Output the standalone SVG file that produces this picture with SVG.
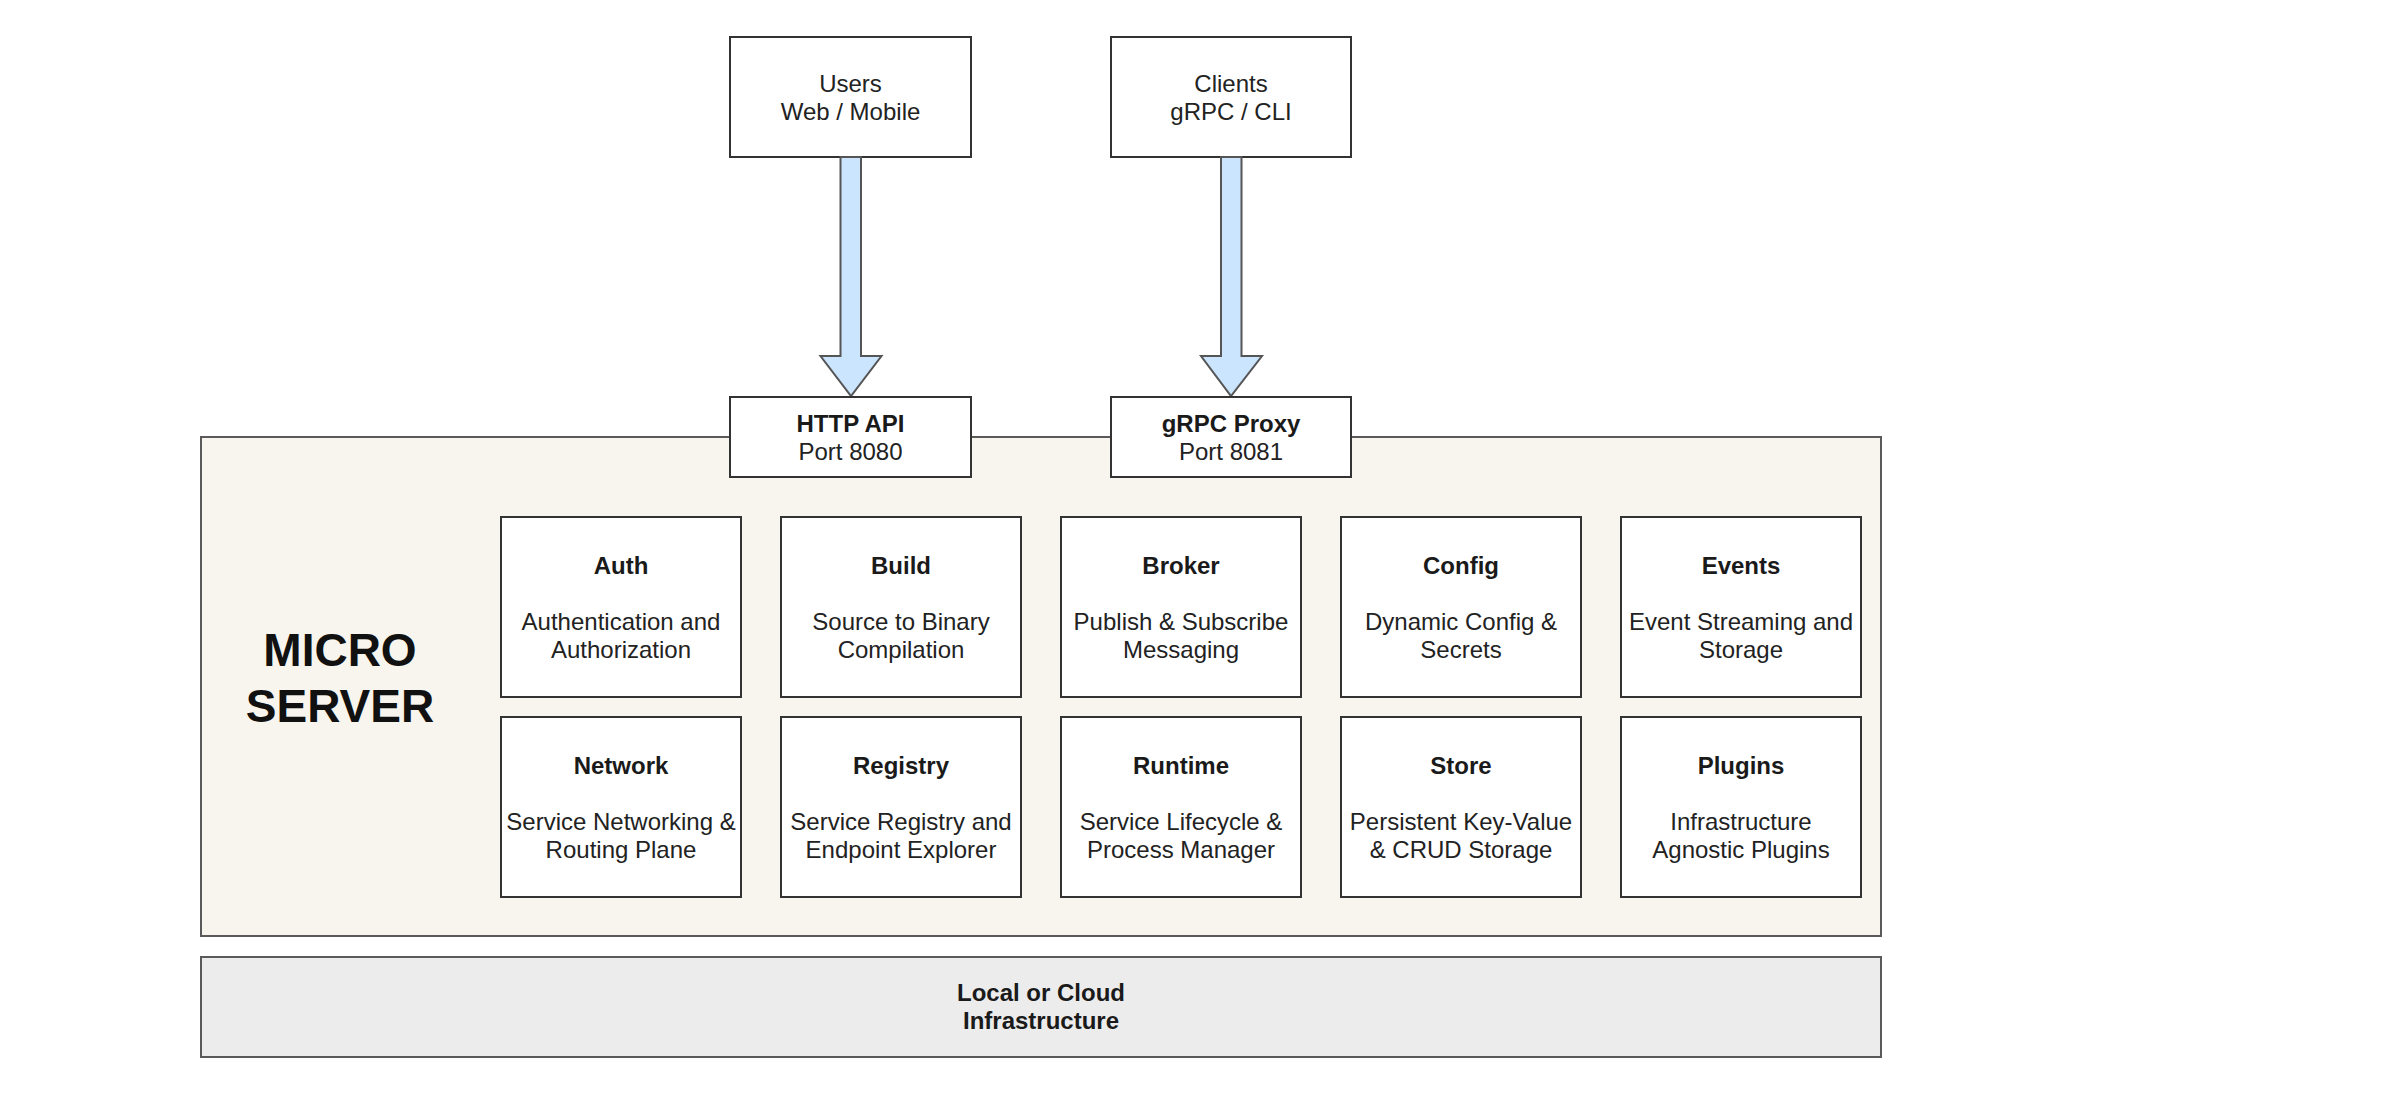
<svg xmlns="http://www.w3.org/2000/svg" width="2386" height="1112" viewBox="0 0 2386 1112">
<style>
  text { font-family: "Liberation Sans", Arial, sans-serif; text-anchor: middle; }
  .box { fill: #ffffff; stroke: #333333; stroke-width: 2; }
  .container { fill: #f7f5ee; stroke: #5a5a5a; stroke-width: 2; }
  .infra { fill: #ececec; stroke: #5a5a5a; stroke-width: 2; }
  .t { font-size: 24px; fill: #222222; }
  .b { font-size: 24px; font-weight: bold; fill: #1a1a1a; }
  .big { font-size: 46px; font-weight: bold; fill: #111111; }
  .arrow { fill: #cce5ff; stroke: #555555; stroke-width: 2; stroke-linejoin: miter; }
</style>
<rect width="2386" height="1112" fill="#ffffff"/>

<g id="micro-server">
  <rect class="container" x="201" y="437" width="1680" height="499"/>
  <text class="big" x="340" y="666">MICRO</text>
  <text class="big" x="340" y="722">SERVER</text>
</g>

<g id="infrastructure">
  <rect class="infra" x="201" y="957" width="1680" height="100"/>
  <text class="b" x="1041" y="1001">Local or Cloud</text>
  <text class="b" x="1041" y="1029">Infrastructure</text>
</g>

<g id="users">
  <rect class="box" x="730" y="37" width="241" height="120"/>
  <text class="t" x="850.5" y="91.5">Users</text>
  <text class="t" x="850.5" y="119.5">Web / Mobile</text>
</g>

<g id="clients">
  <rect class="box" x="1111" y="37" width="240" height="120"/>
  <text class="t" x="1231" y="91.5">Clients</text>
  <text class="t" x="1231" y="119.5">gRPC / CLI</text>
</g>

<g id="connectors">
  <path class="arrow" d="M840.5,157 L861,157 L861,356 L881.5,356 L851,396 L820.5,356 L840.5,356 Z"/>
  <path class="arrow" d="M1221,157 L1241.5,157 L1241.5,356 L1262,356 L1231,396 L1201,356 L1221,356 Z"/>
</g>

<g id="http-api">
  <rect class="box" x="730" y="397" width="241" height="80"/>
  <text class="b" x="850.5" y="431.5">HTTP API</text>
  <text class="t" x="850.5" y="459.5">Port 8080</text>
</g>

<g id="grpc-proxy">
  <rect class="box" x="1111" y="397" width="240" height="80"/>
  <text class="b" x="1231" y="431.5">gRPC Proxy</text>
  <text class="t" x="1231" y="459.5">Port 8081</text>
</g>

<g id="auth">
  <rect class="box" x="501" y="517" width="240" height="180"/>
  <text class="b" x="621" y="573.5">Auth</text>
  <text class="t" x="621" y="629.5">Authentication and</text>
  <text class="t" x="621" y="657.5">Authorization</text>
</g>
<g id="build">
  <rect class="box" x="781" y="517" width="240" height="180"/>
  <text class="b" x="901" y="573.5">Build</text>
  <text class="t" x="901" y="629.5">Source to Binary</text>
  <text class="t" x="901" y="657.5">Compilation</text>
</g>
<g id="broker">
  <rect class="box" x="1061" y="517" width="240" height="180"/>
  <text class="b" x="1181" y="573.5">Broker</text>
  <text class="t" x="1181" y="629.5">Publish &amp; Subscribe</text>
  <text class="t" x="1181" y="657.5">Messaging</text>
</g>
<g id="config">
  <rect class="box" x="1341" y="517" width="240" height="180"/>
  <text class="b" x="1461" y="573.5">Config</text>
  <text class="t" x="1461" y="629.5">Dynamic Config &amp;</text>
  <text class="t" x="1461" y="657.5">Secrets</text>
</g>
<g id="events">
  <rect class="box" x="1621" y="517" width="240" height="180"/>
  <text class="b" x="1741" y="573.5">Events</text>
  <text class="t" x="1741" y="629.5">Event Streaming and</text>
  <text class="t" x="1741" y="657.5">Storage</text>
</g>

<g id="network">
  <rect class="box" x="501" y="717" width="240" height="180"/>
  <text class="b" x="621" y="773.5">Network</text>
  <text class="t" x="621" y="829.5">Service Networking &amp;</text>
  <text class="t" x="621" y="857.5">Routing Plane</text>
</g>
<g id="registry">
  <rect class="box" x="781" y="717" width="240" height="180"/>
  <text class="b" x="901" y="773.5">Registry</text>
  <text class="t" x="901" y="829.5">Service Registry and</text>
  <text class="t" x="901" y="857.5">Endpoint Explorer</text>
</g>
<g id="runtime">
  <rect class="box" x="1061" y="717" width="240" height="180"/>
  <text class="b" x="1181" y="773.5">Runtime</text>
  <text class="t" x="1181" y="829.5">Service Lifecycle &amp;</text>
  <text class="t" x="1181" y="857.5">Process Manager</text>
</g>
<g id="store">
  <rect class="box" x="1341" y="717" width="240" height="180"/>
  <text class="b" x="1461" y="773.5">Store</text>
  <text class="t" x="1461" y="829.5">Persistent Key-Value</text>
  <text class="t" x="1461" y="857.5">&amp; CRUD Storage</text>
</g>
<g id="plugins">
  <rect class="box" x="1621" y="717" width="240" height="180"/>
  <text class="b" x="1741" y="773.5">Plugins</text>
  <text class="t" x="1741" y="829.5">Infrastructure</text>
  <text class="t" x="1741" y="857.5">Agnostic Plugins</text>
</g>
</svg>
